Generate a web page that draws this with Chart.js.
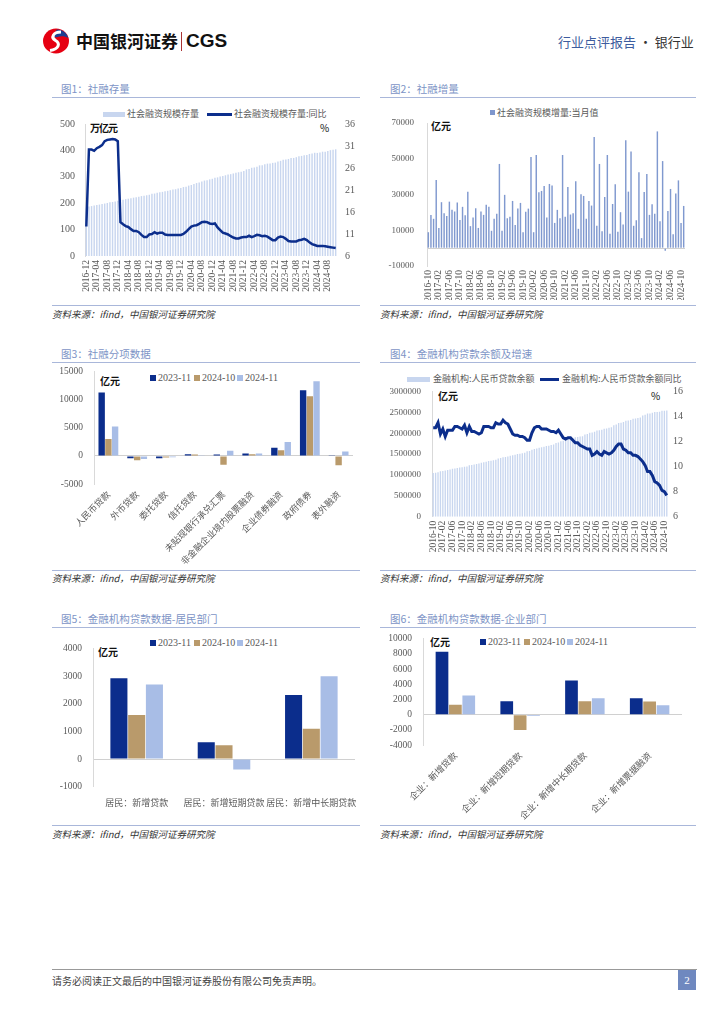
<!DOCTYPE html>
<html><head><meta charset="utf-8">
<script src="https://cdn.jsdelivr.net/npm/chart.js@4.4.1/dist/chart.umd.min.js"></script>
<style>
body{margin:0;width:724px;height:1024px;background:#fff;position:relative;overflow:hidden;font-family:'Noto Sans CJK SC','Noto Sans',sans-serif;}
.t{position:absolute;white-space:nowrap;transform:translateY(-50%);line-height:1.2;}
.title{font-size:10.5px;color:#7d94c6;}
.rule{position:absolute;height:0;border-top:1.5px solid #a9b7da;}
.src{font-size:9.5px;font-style:italic;color:#333;}
.leg{font-size:9px;color:#595959;}
.legd{font-size:10px;color:#595959;font-family:'Liberation Serif',serif;}
.unit{font-size:10px;font-weight:bold;color:#111;}
.sw{position:absolute;}
canvas{position:absolute;}
</style></head>
<body>
<!-- header -->
<svg style="position:absolute;left:42px;top:28px" width="28" height="26" viewBox="0 0 28 26">
  <ellipse cx="14" cy="13" rx="13" ry="12.5" fill="#e60012"/>
  <path d="M15 1.5 A12 12 0 0 1 26.5 10 C22 7.5 18.5 8 15.5 9 C12 10 10 8 15 1.5 Z" fill="#1d3f91"/>
  <path d="M19 4 C11 4 8.5 9.5 13.5 12.5 C18.5 15.5 17 21 8 22.5" stroke="#fff" stroke-width="3" fill="none"/>
</svg>
<div class="t" style="left:76px;top:41px;font-size:17px;font-weight:bold;color:#111;">中国银河证券</div>
<div style="position:absolute;left:181px;top:32px;width:1px;height:19px;background:#a33;"></div>
<div class="t" style="left:186px;top:41px;font-size:19px;font-weight:bold;color:#111;font-family:'Liberation Sans',Arial,sans-serif;">CGS</div>
<div class="t" style="left:558px;top:42px;font-size:13px;"><span style="color:#3d5c9e">行业点评报告</span><span style="color:#333"> · 银行业</span></div>

<!-- panel titles and rules -->
<div class="t title" style="left:61px;top:89px;">图1：社融存量</div>
<div class="t title" style="left:390px;top:89px;">图2：社融增量</div>
<div class="rule" style="left:52px;top:97px;width:308px;"></div>
<div class="rule" style="left:380px;top:97px;width:316px;"></div>
<div class="rule" style="left:52px;top:305px;width:308px;"></div>
<div class="rule" style="left:380px;top:305px;width:316px;"></div>
<div class="t src" style="left:52px;top:315px;">资料来源：ifind，中国银河证券研究院</div>
<div class="t src" style="left:380px;top:315px;">资料来源：ifind，中国银河证券研究院</div>

<div class="t title" style="left:61px;top:354px;">图3：社融分项数据</div>
<div class="t title" style="left:390px;top:354px;">图4：金融机构贷款余额及增速</div>
<div class="rule" style="left:52px;top:362px;width:308px;"></div>
<div class="rule" style="left:380px;top:362px;width:316px;"></div>
<div class="rule" style="left:52px;top:570px;width:308px;"></div>
<div class="rule" style="left:380px;top:570px;width:316px;"></div>
<div class="t src" style="left:52px;top:579px;">资料来源：ifind，中国银河证券研究院</div>
<div class="t src" style="left:380px;top:579px;">资料来源：ifind，中国银河证券研究院</div>

<div class="t title" style="left:61px;top:619px;">图5：金融机构贷款数据-居民部门</div>
<div class="t title" style="left:390px;top:619px;">图6：金融机构贷款数据-企业部门</div>
<div class="rule" style="left:52px;top:627px;width:308px;"></div>
<div class="rule" style="left:380px;top:627px;width:316px;"></div>
<div class="rule" style="left:52px;top:825px;width:308px;"></div>
<div class="rule" style="left:380px;top:825px;width:316px;"></div>
<div class="t src" style="left:52px;top:835px;">资料来源：ifind，中国银河证券研究院</div>
<div class="t src" style="left:380px;top:835px;">资料来源：ifind，中国银河证券研究院</div>

<!-- footer -->
<div style="position:absolute;left:52px;top:969px;width:645px;height:1px;background:#999;"></div>
<div class="t" style="left:52px;top:981px;font-size:10px;color:#444;">请务必阅读正文最后的中国银河证券股份有限公司免责声明。</div>
<div style="position:absolute;left:678px;top:970px;width:18px;height:20px;background:#6f88bf;color:#fff;font-size:11px;line-height:20px;text-align:center;font-family:'Liberation Serif',serif;">2</div>

<!-- legends -->
<div class="sw" style="left:103px;top:112px;width:22px;height:5px;background:#c8d6ef;"></div>
<div class="t leg" style="left:127px;top:114px;">社会融资规模存量</div>
<div class="sw" style="left:207px;top:113px;width:25px;height:3px;background:#0c2e8c;"></div>
<div class="t leg" style="left:234px;top:114px;">社会融资规模存量:同比</div>
<div class="t unit" style="left:90px;top:128px;letter-spacing:-1px;">万亿元</div>
<div class="t unit" style="left:320px;top:128px;font-weight:normal;">%</div>

<div class="sw" style="left:490px;top:110px;width:5px;height:5px;background:#7f97cd;"></div>
<div class="t leg" style="left:497px;top:113px;">社会融资规模增量:当月值</div>
<div class="t unit" style="left:431px;top:126px;">亿元</div>

<div class="sw" style="left:150px;top:375px;width:6px;height:6px;background:#0b2d8c;"></div>
<div class="t legd" style="left:158px;top:378px;">2023-11</div>
<div class="sw" style="left:194px;top:375px;width:6px;height:6px;background:#b99a6b;"></div>
<div class="t legd" style="left:202px;top:378px;">2024-10</div>
<div class="sw" style="left:237px;top:375px;width:6px;height:6px;background:#a8bde6;"></div>
<div class="t legd" style="left:245px;top:378px;">2024-11</div>
<div class="t unit" style="left:100px;top:381px;">亿元</div>

<div class="sw" style="left:407px;top:377px;width:23px;height:5px;background:#c8d6ef;"></div>
<div class="t leg" style="left:433px;top:379px;">金融机构:人民币贷款余额</div>
<div class="sw" style="left:540px;top:378px;width:19px;height:3px;background:#0c2e8c;"></div>
<div class="t leg" style="left:562px;top:379px;">金融机构:人民币贷款余额同比</div>
<div class="t unit" style="left:438px;top:396px;">亿元</div>
<div class="t unit" style="left:651px;top:396px;font-weight:normal;">%</div>

<div class="sw" style="left:150px;top:640px;width:6px;height:6px;background:#0b2d8c;"></div>
<div class="t legd" style="left:158px;top:643px;">2023-11</div>
<div class="sw" style="left:194px;top:640px;width:6px;height:6px;background:#b99a6b;"></div>
<div class="t legd" style="left:202px;top:643px;">2024-10</div>
<div class="sw" style="left:237px;top:640px;width:6px;height:6px;background:#a8bde6;"></div>
<div class="t legd" style="left:245px;top:643px;">2024-11</div>
<div class="t unit" style="left:98px;top:652px;">亿元</div>

<div class="sw" style="left:480px;top:639px;width:6px;height:6px;background:#0b2d8c;"></div>
<div class="t legd" style="left:488px;top:642px;">2023-11</div>
<div class="sw" style="left:524px;top:639px;width:6px;height:6px;background:#b99a6b;"></div>
<div class="t legd" style="left:532px;top:642px;">2024-10</div>
<div class="sw" style="left:567px;top:639px;width:6px;height:6px;background:#a8bde6;"></div>
<div class="t legd" style="left:575px;top:642px;">2024-11</div>
<div class="t unit" style="left:430px;top:642px;">亿元</div>

<script>
// ---------- data ----------
const months = ['2016-10','2016-11','2016-12','2017-01','2017-02','2017-03','2017-04','2017-05','2017-06','2017-07','2017-08','2017-09','2017-10','2017-11','2017-12','2018-01','2018-02','2018-03','2018-04','2018-05','2018-06','2018-07','2018-08','2018-09','2018-10','2018-11','2018-12','2019-01','2019-02','2019-03','2019-04','2019-05','2019-06','2019-07','2019-08','2019-09','2019-10','2019-11','2019-12','2020-01','2020-02','2020-03','2020-04','2020-05','2020-06','2020-07','2020-08','2020-09','2020-10','2020-11','2020-12','2021-01','2021-02','2021-03','2021-04','2021-05','2021-06','2021-07','2021-08','2021-09','2021-10','2021-11','2021-12','2022-01','2022-02','2022-03','2022-04','2022-05','2022-06','2022-07','2022-08','2022-09','2022-10','2022-11','2022-12','2023-01','2023-02','2023-03','2023-04','2023-05','2023-06','2023-07','2023-08','2023-09','2023-10','2023-11','2023-12','2024-01','2024-02','2024-03','2024-04','2024-05','2024-06','2024-07','2024-08','2024-09','2024-10','2024-11'];
const months1 = months.slice(2); // 2016-12 .. 2024-11

// 图1 社会融资规模存量 (万亿元) and 同比 (%)
const tsfStock = [185,
 187.5,189.0,191.2,193.0,194.8,197.3,198.7,200.9,203.4,204.6,206.8,209.0,
 212.0,213.2,215.3,217.0,218.7,221.0,222.4,224.4,226.9,227.9,230.0,232.0,
 235.5,236.6,239.5,241.1,243.0,245.6,246.9,249.2,251.8,252.9,255.3,257.5,
 261.1,262.4,266.6,269.0,272.4,276.3,278.4,282.1,285.8,287.4,290.2,292.5,
 296.2,297.8,301.5,303.5,305.8,308.8,310.0,312.6,315.6,317.2,319.5,322.1,
 328.0,329.4,334.2,335.3,338.1,343.3,344.2,347.1,349.9,350.7,352.8,353.8,
 358.0,360.5,364.9,366.0,367.6,371.0,371.4,374.3,378.0,379.2,381.3,382.4,
 386.6,387.9,391.0,390.5,391.8,395.1,394.8,397.5,400.9,402.0,404.2];
const tsfYoY = [12.7,
 30.2,30.2,29.9,30.5,30.8,31.2,32.1,32.4,32.5,32.6,32.5,32.1,
 13.7,13.2,12.8,12.6,12.1,11.7,11.7,11.4,10.8,10.3,10.3,10.9,
 11.0,11.4,11.1,11.3,11.3,10.9,10.8,10.8,10.8,10.8,10.8,10.8,
 11.0,11.5,12.1,12.7,12.9,13.0,13.3,13.7,13.8,13.7,13.4,13.3,
 13.4,12.5,11.9,11.3,11.1,10.9,10.5,10.2,10.0,10.0,10.2,10.3,
 10.3,10.6,10.3,10.5,10.8,10.7,10.5,10.6,10.4,10.0,9.6,9.6,
 10.2,10.4,10.3,9.9,9.4,9.3,9.3,9.3,9.6,9.7,9.9,9.6,
 9.1,8.7,8.5,8.3,8.3,8.3,8.2,8.1,8.0,7.9,7.8];

// 图2 社会融资规模增量:当月值 (亿元)
const tsfFlow = [8900,18600,16400,38100,11200,25700,19500,18000,26000,21400,20500,25500,15800,23100,18400,31600,12300,17100,22300,11300,20500,18600,24200,23100,9700,16400,19300,47100,9700,29800,16700,17500,26400,13000,22100,25300,8900,20300,22100,51000,8900,52100,31200,32000,34800,17100,35900,35000,14100,21400,16700,52100,17500,34200,18800,19500,37400,10800,30100,29200,16400,26400,23800,62100,12500,47100,9500,28600,52100,8000,24700,35700,9100,20100,13200,60300,31600,54100,12500,15600,42400,5600,31400,41500,18600,24600,19300,65300,15100,48700,-1500,20800,33100,7800,30500,37900,14100,23600];

// 图3 社融分项数据 (亿元)
const cats3 = ['人民币贷款','外币贷款','委托贷款','信托贷款','未贴现银行承兑汇票','非金融企业境内股票融资','企业债券融资','政府债券','表外融资'];
const tsfItem2311 = [11300,-400,-430,300,240,410,1470,11700,110];
const tsfItem2410 = [3000,-750,-300,240,-1590,290,1000,10650,-1650];
const tsfItem2411 = [5240,-550,-250,120,940,410,2470,13290,810];

// 图4 金融机构:人民币贷款余额 (亿元) and 同比 (%)
const loanBal = [1046000,1054000,1066000,
 1086000,1096000,1107000,1118000,1130000,1146000,1154000,1165000,1177000,1183000,1195000,1201000,
 1230000,1238000,1250000,1262000,1273000,1291000,1305000,1317000,1331000,1338000,1351000,1363000,
 1396000,1405000,1422000,1432000,1444000,1461000,1470000,1482000,1499000,1505000,1519000,1531000,
 1566000,1575000,1603000,1620000,1635000,1652000,1662000,1675000,1694000,1701000,1715000,1727000,
 1763000,1776000,1804000,1819000,1838000,1860000,1871000,1884000,1901000,1910000,1923000,1927000,
 1967000,1979000,2011000,2018000,2036000,2064000,2070000,2083000,2108000,2114000,2127000,2139000,
 2188000,2206000,2245000,2252000,2266000,2300000,2304000,2318000,2346000,2354000,2365000,2376000,
 2425000,2439000,2470000,2471000,2486000,2508000,2506000,2515000,2534000,2539000,2544000];
const loanYoY = [13.1,13.1,13.5,
 12.6,13.0,12.4,12.9,12.9,12.9,13.2,13.2,13.1,13.0,13.3,12.7,
 13.2,12.8,12.8,12.7,12.6,12.7,13.2,13.2,13.2,13.1,13.1,13.5,
 13.4,13.4,13.7,13.5,13.4,13.0,12.6,12.5,12.5,12.4,12.4,12.3,
 12.1,12.1,12.7,13.1,13.2,13.2,13.0,13.0,13.0,12.9,12.8,12.8,
 12.7,12.9,12.6,12.3,12.2,12.3,12.3,12.1,11.9,11.9,11.7,11.6,
 11.5,11.4,11.4,10.9,11.0,11.2,11.0,10.9,11.2,11.1,11.0,11.1,
 11.3,11.6,11.8,11.8,11.4,11.3,11.1,11.1,10.9,10.9,10.8,10.6,
 10.4,10.1,9.6,9.6,9.3,8.8,8.7,8.5,8.1,8.0,7.7];

// 图5 居民部门 (亿元)
const cats5 = ['居民：新增贷款','居民：新增短期贷款','居民：新增中长期贷款'];
const hh2311 = [2930,610,2320];
const hh2410 = [1600,500,1100];
const hh2411 = [2700,-380,3000];

// 图6 企业部门 (亿元)
const cats6 = ['企业：新增贷款','企业：新增短期贷款','企业：新增中长期贷款','企业：新增票据融资'];
const corp2311 = [8280,1760,4500,2150];
const corp2410 = [1300,-2020,1760,1720];
const corp2411 = [2530,-170,2150,1250];

// tick labels
const ticks2 = [-10000,0,10000,30000,50000,70000];

// ---------- helpers ----------
Chart.defaults.font.family = "'Liberation Serif','Noto Sans CJK SC',serif";
Chart.defaults.color = '#595959';
Chart.defaults.animation = false;
Chart.defaults.plugins.legend.display = false;
Chart.defaults.plugins.tooltip.enabled = false;

const NAVY='#0b2d8c', TAN='#b99a6b', LIGHT='#a8bde6', PALE='#c8d6ef', LINE='#0c2e8c';

function mk(left, top, w, h, cfg){
  const c = document.createElement('canvas');
  c.width = w; c.height = h;
  c.style.left = left+'px'; c.style.top = top+'px';
  c.style.width = w+'px'; c.style.height = h+'px';
  document.body.appendChild(c);
  cfg.options = Object.assign({responsive:false, maintainAspectRatio:false, devicePixelRatio:1}, cfg.options);
  return new Chart(c, cfg);
}
const plain = v => String(v);
const noGrid = {display:false, drawTicks:false};
const zeroGrid = {display:true, drawTicks:false, lineWidth:1, color: ctx => (ctx.tick && ctx.tick.value===0) ? '#d0d0d0' : 'rgba(0,0,0,0)'};
const axisBorder = {display:true, color:'#d9d9d9', width:1};

// ---------- 图1 ----------
mk(40,100,320,200,{
  type:'bar',
  data:{labels:months1, datasets:[
    {type:'line', data:tsfYoY, yAxisID:'y1', borderColor:LINE, borderWidth:2.5, pointRadius:0, tension:0, order:0},
    {type:'bar', data:tsfStock, yAxisID:'y', backgroundColor:PALE, barPercentage:0.55, categoryPercentage:1, order:1}
  ]},
  options:{layout:{padding:{top:24,left:0,right:0,bottom:0}},
    scales:{
      x:{grid:noGrid, border:{display:false}, ticks:{autoSkip:false,minRotation:90,maxRotation:90,padding:4,font:{size:9.5},callback:(v,i)=> i%4===0?months1[i]:''}, afterFit:s=>{s.height=44;}},
      y:{position:'left',min:0,max:500,grid:noGrid,border:axisBorder,ticks:{stepSize:100,padding:10,font:{size:10},callback:plain},afterFit:s=>{s.width=45;}},
      y1:{position:'right',min:6,max:36,grid:noGrid,border:{display:false},ticks:{stepSize:5,padding:8,font:{size:10},callback:plain},afterFit:s=>{s.width=23;}}
    }}
});

// ---------- 图2 ----------
mk(370,100,330,200,{
  type:'bar',
  data:{labels:months, datasets:[
    {data:tsfFlow, backgroundColor:'#8099cf', barPercentage:0.55, categoryPercentage:1}
  ]},
  options:{layout:{padding:{top:23,left:0,right:15,bottom:0}},
    scales:{
      x:{grid:noGrid, border:{display:false}, ticks:{autoSkip:false,minRotation:90,maxRotation:90,padding:4,font:{size:9.5},callback:(v,i)=> i%4===0?months[i]:''}, afterFit:s=>{s.height=34;}},
      y:{min:-10000,max:70000,grid:zeroGrid,border:axisBorder,
         afterBuildTicks:s=>{s.ticks = ticks2.map(v=>({value:v}));},
         ticks:{padding:13,font:{size:9},callback:v=> v===0?'':String(v)},afterFit:s=>{s.width=57;}}
    }}
});

// ---------- 图3 ----------
mk(40,355,320,215,{
  type:'bar',
  data:{labels:cats3, datasets:[
    {label:'2023-11',data:tsfItem2311,backgroundColor:NAVY,barPercentage:0.95,categoryPercentage:0.7},
    {label:'2024-10',data:tsfItem2410,backgroundColor:TAN,barPercentage:0.95,categoryPercentage:0.7},
    {label:'2024-11',data:tsfItem2411,backgroundColor:LIGHT,barPercentage:0.95,categoryPercentage:0.7}
  ]},
  options:{layout:{padding:{top:15.7,left:0,right:7,bottom:0}},
    scales:{
      x:{grid:noGrid,border:{display:false},ticks:{autoSkip:false,minRotation:45,maxRotation:45,padding:5,font:{size:9,family:"'Noto Sans CJK SC',sans-serif"}},afterFit:s=>{s.height=86;}},
      y:{min:-5000,max:15000,grid:zeroGrid,border:axisBorder,ticks:{stepSize:5000,padding:11,font:{size:9.5},callback:plain},afterFit:s=>{s.width=54;}}
    }}
});

// ---------- 图4 ----------
mk(370,375,330,195,{
  type:'bar',
  data:{labels:months, datasets:[
    {type:'line', data:loanYoY, yAxisID:'y1', borderColor:LINE, borderWidth:3, pointRadius:0, tension:0, order:0},
    {type:'bar', data:loanBal, yAxisID:'y', backgroundColor:PALE, barPercentage:0.55, categoryPercentage:1, order:1}
  ]},
  options:{layout:{padding:{top:14,left:0,right:0,bottom:0}},
    scales:{
      x:{grid:noGrid,border:{display:false},ticks:{autoSkip:false,minRotation:90,maxRotation:90,padding:4,font:{size:9.5},callback:(v,i)=> i%4===0?months[i]:''},afterFit:s=>{s.height=53.3;}},
      y:{position:'left',min:0,max:3000000,grid:noGrid,border:axisBorder,ticks:{stepSize:500000,padding:11,font:{size:9},callback:plain},afterFit:s=>{s.width=62;}},
      y1:{position:'right',min:6,max:16,grid:noGrid,border:{display:false},ticks:{stepSize:2,padding:5,font:{size:10},callback:plain},afterFit:s=>{s.width=32;}}
    }}
});

// ---------- 图5 ----------
mk(40,632,330,190,{
  type:'bar',
  data:{labels:cats5, datasets:[
    {label:'2023-11',data:hh2311,backgroundColor:NAVY,barPercentage:0.96,categoryPercentage:0.61},
    {label:'2024-10',data:hh2410,backgroundColor:TAN,barPercentage:0.96,categoryPercentage:0.61},
    {label:'2024-11',data:hh2411,backgroundColor:LIGHT,barPercentage:0.96,categoryPercentage:0.61}
  ]},
  options:{layout:{padding:{top:15.7,left:0,right:15,bottom:0}},
    scales:{
      x:{grid:noGrid,border:{display:false},ticks:{autoSkip:false,minRotation:0,maxRotation:0,padding:10,font:{size:9,family:"'Noto Sans CJK SC',sans-serif"}},afterFit:s=>{s.height=35.3;}},
      y:{min:-1000,max:4000,grid:zeroGrid,border:axisBorder,ticks:{stepSize:1000,padding:11,font:{size:9.5},callback:plain},afterFit:s=>{s.width=53;}}
    }}
});

// ---------- 图6 ----------
mk(370,622,330,200,{
  type:'bar',
  data:{labels:cats6, datasets:[
    {label:'2023-11',data:corp2311,backgroundColor:NAVY,barPercentage:0.95,categoryPercentage:0.62},
    {label:'2024-10',data:corp2410,backgroundColor:TAN,barPercentage:0.95,categoryPercentage:0.62},
    {label:'2024-11',data:corp2411,backgroundColor:LIGHT,barPercentage:0.95,categoryPercentage:0.62}
  ]},
  options:{layout:{padding:{top:13.7,left:0,right:18,bottom:0}},
    scales:{
      x:{grid:noGrid,border:{display:false},ticks:{autoSkip:false,minRotation:45,maxRotation:45,padding:5,font:{size:9,family:"'Noto Sans CJK SC',sans-serif"}},afterFit:s=>{s.height=77;}},
      y:{min:-4000,max:10000,grid:zeroGrid,border:axisBorder,ticks:{stepSize:2000,padding:11,font:{size:9.5},callback:plain},afterFit:s=>{s.width=53;}}
    }}
});
</script>
</body></html>
